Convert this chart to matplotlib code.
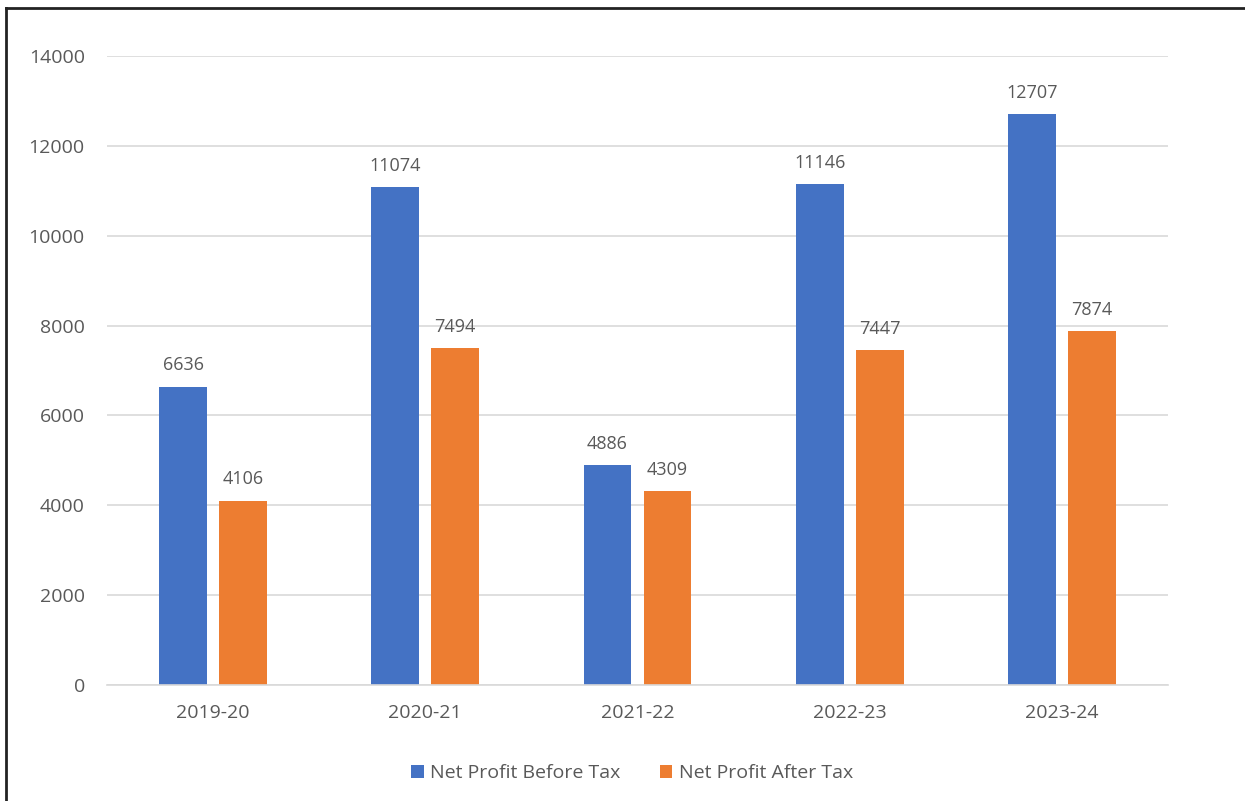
import matplotlib.pyplot as plt
import matplotlib.lines as mlines
import numpy as np

years = ["2019-20", "2020-21", "2021-22", "2022-23", "2023-24"]
before_tax = [6636, 11074, 4886, 11146, 12707]
after_tax = [4106, 7494, 4309, 7447, 7874]

blue = "#4472C4"
orange = "#ED7D31"
grey = "#595959"

plt.rcParams["font.family"] = ["Open Sans", "DejaVu Sans"]

fig = plt.figure(figsize=(12.45, 8.01), dpi=100)
ax = fig.add_axes([107 / 1245, 1 - 685 / 801, 1061 / 1245, (685 - 56) / 801])

x = np.arange(len(years))
w = 0.226
off = 0.1414
b1 = ax.bar(x - off, before_tax, w, color=blue, label="Net Profit Before Tax")
b2 = ax.bar(x + off, after_tax, w, color=orange, label="Net Profit After Tax")

for bars in (b1, b2):
    ax.bar_label(bars, padding=9, fontsize=13, color=grey)

ax.set_xlim(-0.5, len(years) - 0.5)
ax.set_ylim(0, 14000)
ax.set_yticks(range(0, 14001, 2000))
ax.set_xticks(x, years)
ax.yaxis.grid(True, color="#d9d9d9", linewidth=1.2)
ax.set_axisbelow(True)
for s in ["top", "right", "left"]:
    ax.spines[s].set_visible(False)
ax.spines["bottom"].set_color("#d9d9d9")
ax.spines["bottom"].set_linewidth(1.2)
ax.tick_params(length=0, labelsize=14, labelcolor=grey)
ax.tick_params(axis="y", pad=16)
ax.tick_params(axis="x", pad=14)

ax.legend(loc="center", bbox_to_anchor=(0.495, -0.14), ncol=2, frameon=False,
          fontsize=14, labelcolor=grey, handlelength=0.65, handleheight=0.65,
          handletextpad=0.35, columnspacing=2.0)

# frame on the left and top edges of the figure
fig.add_artist(mlines.Line2D([6 / 1245, 6 / 1245], [0, 1 - 8 / 801], color="#222222",
                             linewidth=2, transform=fig.transFigure))
fig.add_artist(mlines.Line2D([6 / 1245, 1], [1 - 8 / 801, 1 - 8 / 801], color="#222222",
                             linewidth=2, transform=fig.transFigure))

fig.savefig("out.png", dpi=100)
